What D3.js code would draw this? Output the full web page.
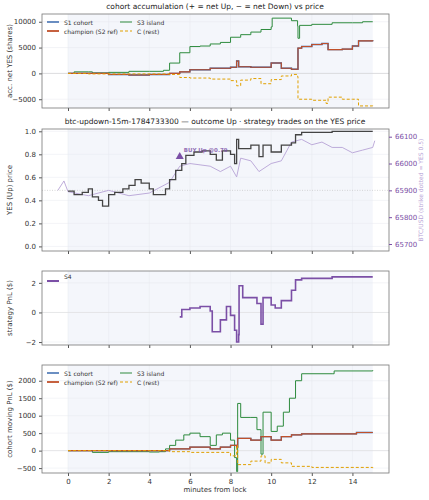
<!DOCTYPE html>
<html><head><meta charset="utf-8">
<script src="https://cdn.jsdelivr.net/npm/d3@7"></script>
<style>body{margin:0;background:#fff}text{font-family:"DejaVu Sans",sans-serif}</style>
</head><body><svg id="c" width="429" height="500"></svg>
<script>
// step series: [minutes, value]
var accS3 = [[0,0],[0.3,300],[1,300],[1.2,100],[2,200],[3,400],[4,400],[4.7,600],[5,2000],[5.5,4000],[6,5200],[6.5,5300],[7,5700],[7.5,6000],[8,7000],[8.5,7500],[9,8000],[9.5,8500],[10,9000],[10.05,10700],[11,10200],[11.3,9200],[11.32,6800],[11.4,9300],[12,9500],[13,9800],[14,9800],[14.5,10000],[15,10000]];
var accChamp = [[0,0],[1,0],[2,-200],[3,-300],[4,-200],[5,0],[5.5,300],[6,700],[7,1000],[8,1200],[8.3,2400],[8.4,1300],[9,1200],[10,2000],[10.5,1000],[11,800],[11.3,800],[11.32,4900],[11.5,5200],[12,5600],[12.5,5800],[12.8,4600],[13.5,4700],[14,5300],[14.3,6300],[15,6200]];
var accS1 = accChamp;
var accC = [[0,0],[1,-100],[3,-100],[5,-200],[5.5,-800],[6,-900],[7,-1100],[8,-1400],[8.3,-2400],[8.5,-1300],[9,-1000],[9.5,-2000],[10,-1200],[10.5,-500],[11,-200],[11.3,-600],[11.32,-5000],[12,-5200],[12.7,-5800],[12.8,-4600],[13.5,-5000],[14,-5000],[14.3,-6300],[15,-6200]];

var yesPrice = [[0,0.48],[0.3,0.45],[0.7,0.47],[1,0.5],[1.2,0.43],[1.5,0.4],[1.7,0.35],[2,0.45],[2.3,0.47],[2.7,0.5],[3,0.53],[3.3,0.58],[3.6,0.55],[4,0.5],[4.2,0.45],[4.5,0.45],[4.8,0.5],[5,0.58],[5.3,0.66],[5.6,0.72],[5.8,0.79],[6.2,0.82],[6.6,0.83],[7,0.8],[7.3,0.75],[7.6,0.83],[8,0.8],[8.2,0.72],[8.3,0.93],[8.4,0.85],[9,0.88],[9.4,0.78],[9.6,0.88],[10,0.82],[10.5,0.88],[11,0.9],[11.2,0.97],[11.5,0.99],[12,0.99],[13,1.0],[15,1.0]];
var btcPrice = [[-0.5,65900],[-0.2,65935],[0,65895],[1,65880],[2,65900],[3,65880],[4,65890],[5,65930],[5.5,65990],[6,66000],[7,65990],[7.5,65970],[8,65990],[8.3,65950],[8.5,66020],[9,66010],[9.4,65970],[10,66000],[10.5,66010],[11,66080],[11.5,66090],[12,66070],[12.5,66080],[13,66060],[13.5,66060],[14,66040],[14.5,66050],[15,66060],[15.1,66085]];
var trades = [{t:5.5,p:0.78,label:"BUY Up @0.79"}];

var pnlS4 = [[5.5,-0.3],[5.6,0.2],[6,0.3],[6.5,0.4],[7,0.1],[7.1,-1.3],[7.5,-0.5],[7.8,0.4],[8,-0.2],[8.2,-1.2],[8.3,-2],[8.4,-1.5],[8.42,1.8],[8.6,1],[9,1],[9.3,0.6],[9.5,-0.8],[9.6,1],[10,0.5],[10.2,0.3],[10.5,0.8],[11,1.5],[11.2,2.2],[11.5,2.3],[12,2.3],[13,2.4],[15,2.4]];

var pnlS3 = [[0,0],[1,0],[1.2,-50],[2,-30],[4,-40],[4.5,-30],[4.8,50],[5,150],[5.3,300],[5.7,450],[6,500],[6.5,400],[7,150],[7.3,450],[7.6,500],[8,300],[8.2,-200],[8.3,-600],[8.35,1350],[8.5,950],[9,950],[9.3,600],[9.5,-100],[9.6,1100],[10,550],[10.3,700],[10.6,1100],[10.9,1500],[11.2,2000],[11.5,2200],[13,2200],[13.1,2280],[15,2300]];
var pnlChamp = [[0,0],[4,0],[5,50],[5.5,50],[6,100],[7,50],[7.5,100],[8,150],[8.3,100],[8.35,350],[9,300],[9.5,400],[10,300],[10.5,400],[11,450],[11.5,480],[14,480],[14.2,520],[15,520]];
var pnlS1 = pnlChamp;
var pnlC = [[0,0],[4,0],[5,-30],[6,-50],[7,-50],[8,-150],[8.3,150],[8.35,-400],[9,-300],[9.5,-150],[9.7,-350],[10,-250],[10.5,-350],[11,-450],[12,-480],[15,-500]];

var xTicks = [0,2,4,6,8,10,12,14];
var COL = {s1:"#2c5fa8", champ:"#c0502a", s3:"#2e8b3e", c:"#e0a000", s4:"#7b4fa6", btc:"#b7a3d6", yes:"#444"};

var svg = d3.select("#c");
var x = d3.scaleLinear().domain([-1.28,15.8]).range([42,389]);

function panel(top, bottom, domain, ticks, fmt, ylabel) {
	var y = d3.scaleLinear().domain(domain).range([bottom, top]);
	var g = svg.append("g");
	g.append("rect").attr("x",42).attr("y",top).attr("width",347).attr("height",bottom-top).attr("fill","#fff");
	g.append("rect").attr("x",x(0)).attr("y",top).attr("width",x(15)-x(0)).attr("height",bottom-top).attr("fill","#f4f6fb");
	xTicks.forEach(function(t){ g.append("line").attr("x1",x(t)).attr("x2",x(t)).attr("y1",top).attr("y2",bottom).attr("stroke","#e6e8ee").attr("stroke-width",0.5); });
	ticks.forEach(function(t){ g.append("line").attr("x1",42).attr("x2",389).attr("y1",y(t)).attr("y2",y(t)).attr("stroke","#e6e8ee").attr("stroke-width",0.5); });
	g.append("g").attr("transform","translate(42,0)").call(d3.axisLeft(y).tickValues(ticks).tickFormat(fmt).tickSize(3))
		.call(function(a){ a.select(".domain").remove(); a.selectAll("text").attr("font-size",7).attr("fill","#333"); a.selectAll("line").attr("stroke","#555"); });
	g.append("g").attr("transform","translate(0,"+bottom+")").call(d3.axisBottom(x).tickValues(xTicks).tickFormat(bottom>400?d3.format("d"):"").tickSize(3))
		.call(function(a){ a.select(".domain").remove(); a.selectAll("text").attr("font-size",7).attr("fill","#333"); a.selectAll("line").attr("stroke","#555"); });
	g.append("text").attr("transform","translate(12,"+((top+bottom)/2)+") rotate(-90)").attr("text-anchor","middle").attr("font-size",7).attr("fill","#333").text(ylabel);
	var frame = svg.append("rect").attr("x",42).attr("y",top).attr("width",347).attr("height",bottom-top).attr("fill","none").attr("stroke","#777").attr("stroke-width",0.8);
	return {y:y, g:g, frame:frame};
}

function stepLine(g, y, data, color, width, dash) {
	g.append("path").datum(data)
		.attr("d", d3.line().curve(d3.curveStepAfter).x(function(d){return x(d[0]);}).y(function(d){return y(d[1]);}))
		.attr("fill","none").attr("stroke",color).attr("stroke-width",width).attr("stroke-dasharray",dash||null);
}

function legend(g, lx, ly) {
	var items = [["S1 cohort",COL.s1,1.4,null,0,0],["champion (S2 ref)",COL.champ,1.8,null,0,1],["S3 island",COL.s3,1,null,1,0],["C (rest)",COL.c,1,"3,2",1,1]];
	items.forEach(function(it){
		var ix = lx + it[4]*73, iy = ly + it[5]*9;
		g.append("line").attr("x1",ix).attr("x2",ix+12).attr("y1",iy).attr("y2",iy).attr("stroke",it[1]).attr("stroke-width",it[2]).attr("stroke-dasharray",it[3]);
		g.append("text").attr("x",ix+17).attr("y",iy+2.5).attr("font-size",6).attr("fill","#333").text(it[0]);
	});
}

// panel 1
svg.append("text").attr("x",215).attr("y",9).attr("text-anchor","middle").attr("font-size",7.5).attr("fill","#222").text("cohort accumulation (+ = net Up, \u2212 = net Down) vs price");
var p1 = panel(14,108,[-6700,11500],[-5000,0,5000,10000],d3.format("d"),"acc. net YES (shares)");
p1.g.append("line").attr("x1",42).attr("x2",389).attr("y1",p1.y(0)).attr("y2",p1.y(0)).attr("stroke","#ccc").attr("stroke-width",0.6);
stepLine(p1.g,p1.y,accS3,COL.s3,1);
stepLine(p1.g,p1.y,accS1,COL.s1,1.4);
stepLine(p1.g,p1.y,accChamp,COL.champ,1.1);
stepLine(p1.g,p1.y,accC,COL.c,1,"3,2");
legend(p1.g,47,22);

// panel 2
svg.append("text").attr("x",215).attr("y",124).attr("text-anchor","middle").attr("font-size",7.5).attr("fill","#222").text("btc-updown-15m-1784733300 \u2014 outcome Up \u00b7 strategy trades on the YES price");
var p2 = panel(129,251,[-0.04,1.02],[0,0.2,0.4,0.6,0.8,1.0],d3.format(".1f"),"YES (Up) price");
var yb = d3.scaleLinear().domain([65700,66100]).range([244,136.7]);
p2.g.append("line").attr("x1",42).attr("x2",389).attr("y1",yb(65900)).attr("y2",yb(65900)).attr("stroke","#bbb").attr("stroke-width",0.6).attr("stroke-dasharray","1,1.5");
p2.g.append("path").datum(btcPrice).attr("d",d3.line().x(function(d){return x(d[0]);}).y(function(d){return yb(d[1]);})).attr("fill","none").attr("stroke",COL.btc).attr("stroke-width",0.9);
stepLine(p2.g,p2.y,yesPrice,COL.yes,1.3);
trades.forEach(function(t){
	p2.g.append("path").attr("d",d3.symbol(d3.symbolTriangle,28)()).attr("transform","translate("+x(t.t)+","+p2.y(t.p)+")").attr("fill",COL.s4);
	p2.g.append("text").attr("x",x(t.t)+4).attr("y",p2.y(t.p)-5).attr("font-size",5.5).attr("font-weight","bold").attr("fill",COL.s4).attr("opacity",0.8).text(t.label);
});
svg.append("g").attr("transform","translate(389,0)").call(d3.axisRight(yb).tickValues([65700,65800,65900,66000,66100]).tickFormat(d3.format("d")).tickSize(3))
	.call(function(a){ a.select(".domain").remove(); a.selectAll("text").attr("font-size",7).attr("fill",COL.s4); a.selectAll("line").attr("stroke",COL.s4); });
svg.append("text").attr("transform","translate(423,190) rotate(-90)").attr("text-anchor","middle").attr("font-size",6).attr("fill",COL.btc).text("BTC/USD (strike dotted = YES 0.5)");

// panel 3
var p3 = panel(271,345,[-2.2,2.8],[-2,0,2],d3.format("d"),"strategy PnL ($)");
p3.g.append("line").attr("x1",42).attr("x2",389).attr("y1",p3.y(0)).attr("y2",p3.y(0)).attr("stroke","#ddd").attr("stroke-width",0.6);
stepLine(p3.g,p3.y,pnlS4,COL.s4,1.6);
p3.g.append("line").attr("x1",47).attr("x2",59).attr("y1",281).attr("y2",281).attr("stroke",COL.s4).attr("stroke-width",2);
p3.g.append("text").attr("x",64).attr("y",279).attr("font-size",6).attr("fill","#333").text("S4");

// panel 4
var p4 = panel(365,473,[-640,2450],[-500,0,500,1000,1500,2000],d3.format("d"),"cohort moving PnL ($)");
p4.g.append("line").attr("x1",42).attr("x2",389).attr("y1",p4.y(0)).attr("y2",p4.y(0)).attr("stroke","#ddd").attr("stroke-width",0.6);
stepLine(p4.g,p4.y,pnlS3,COL.s3,1);
stepLine(p4.g,p4.y,pnlS1,COL.s1,1.4);
stepLine(p4.g,p4.y,pnlChamp,COL.champ,1.1);
stepLine(p4.g,p4.y,pnlC,COL.c,1,"3,2");
legend(p4.g,47,373);
svg.append("text").attr("x",215).attr("y",492).attr("text-anchor","middle").attr("font-size",7).attr("fill","#333").text("minutes from lock");
</script></body></html>
